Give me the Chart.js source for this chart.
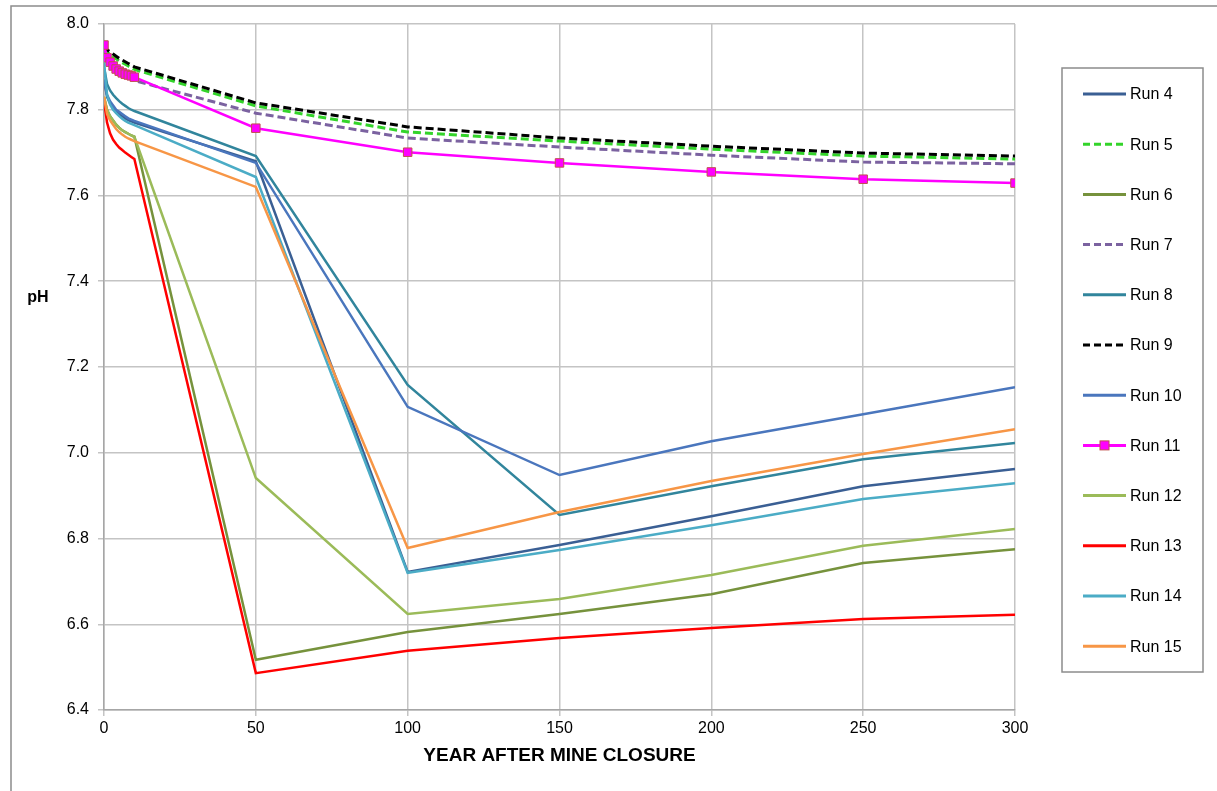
<!DOCTYPE html>
<html lang="en">
<head>
  <meta charset="UTF-8">
  <title>pH after mine closure</title>
  <script src="https://cdn.jsdelivr.net/npm/chart.js"></script>
  <style>
    body {
      margin: 0;
      background: #fff;
    }
    #wrap {
      width: 1217px;
      height: 791px;
      position: relative;
    }
  </style>
</head>
<body>

<div id="wrap">
  <canvas id="phChart"></canvas>
</div>

<script>
  // Data
  const years = [0, 1, 2, 3, 4, 5, 6, 7, 8, 9, 10, 50, 100, 150, 200, 250, 300];

  const run4  = [7.87, 7.83, 7.815, 7.805, 7.797, 7.79, 7.785, 7.78, 7.776, 7.773, 7.77, 7.68, 6.722, 6.785, 6.852, 6.922, 6.962];
  const run5  = [7.945, 7.935, 7.929, 7.924, 7.919, 7.914, 7.91, 7.906, 7.902, 7.898, 7.894, 7.809, 7.748, 7.727, 7.708, 7.692, 7.685];
  const run6  = [7.83, 7.80, 7.785, 7.775, 7.765, 7.758, 7.752, 7.748, 7.744, 7.74, 7.737, 6.517, 6.582, 6.624, 6.67, 6.743, 6.775];
  const run7  = [7.94, 7.925, 7.915, 7.905, 7.898, 7.892, 7.886, 7.88, 7.876, 7.872, 7.868, 7.792, 7.734, 7.713, 7.694, 7.678, 7.674];
  const run8  = [7.90, 7.86, 7.845, 7.835, 7.827, 7.82, 7.814, 7.809, 7.804, 7.80, 7.797, 7.692, 7.158, 6.855, 6.922, 6.985, 7.023];
  const run9  = [7.95, 7.94, 7.935, 7.93, 7.925, 7.92, 7.916, 7.912, 7.908, 7.904, 7.90, 7.816, 7.760, 7.734, 7.715, 7.699, 7.692];
  const run10 = [7.87, 7.835, 7.82, 7.81, 7.80, 7.795, 7.79, 7.785, 7.78, 7.777, 7.774, 7.676, 7.107, 6.948, 7.027, 7.09, 7.153];
  const run11 = [7.951, 7.921, 7.911, 7.902, 7.895, 7.890, 7.886, 7.883, 7.881, 7.879, 7.876, 7.757, 7.701, 7.676, 7.655, 7.638, 7.629];
  const run12 = [7.83, 7.80, 7.785, 7.775, 7.765, 7.758, 7.752, 7.748, 7.744, 7.74, 7.737, 6.941, 6.624, 6.659, 6.715, 6.783, 6.822];
  const run13 = [7.82, 7.77, 7.745, 7.73, 7.72, 7.712, 7.706, 7.70, 7.695, 7.69, 7.685, 6.486, 6.538, 6.568, 6.591, 6.612, 6.622];
  const run14 = [7.91, 7.835, 7.812, 7.80, 7.792, 7.785, 7.779, 7.774, 7.77, 7.767, 7.764, 7.643, 6.72, 6.773, 6.831, 6.892, 6.929];
  const run15 = [7.83, 7.79, 7.775, 7.765, 7.755, 7.748, 7.742, 7.737, 7.733, 7.73, 7.727, 7.62, 6.778, 6.862, 6.934, 6.997, 7.055];

  const yTicks = [6.4, 6.6, 6.8, 7.0, 7.2, 7.4, 7.6, 7.8, 8.0];
  const xTicks = [0, 50, 100, 150, 200, 250, 300];

  const FONT = "'Liberation Sans', Arial, sans-serif";

  function series(label, values, color, opts) {
    return Object.assign({
      label: label,
      data: years.map((x, i) => ({ x: x, y: values[i] })),
      borderColor: color,
      backgroundColor: color,
      borderWidth: 2.5,
      pointRadius: 0,
      tension: 0,
      fill: false
    }, opts || {});
  }

  const dash = { borderDash: [8, 4], borderWidth: 3 };

  const datasets = [
    series('Run 4', run4, '#3a5f94'),
    series('Run 5', run5, '#33d42a', dash),
    series('Run 6', run6, '#76923c'),
    series('Run 7', run7, '#7b62a0', dash),
    series('Run 8', run8, '#31859c'),
    series('Run 9', run9, '#000000', dash),
    series('Run 10', run10, '#4a76bd'),
    series('Run 11', run11, '#ff00ff', {
      pointRadius: 6, pointStyle: 'rect', pointBackgroundColor: '#ff00ff',
      pointBorderColor: '#c0504d', pointBorderWidth: 1
    }),
    series('Run 12', run12, '#9bbb59'),
    series('Run 13', run13, '#ff0000'),
    series('Run 14', run14, '#4bacc6'),
    series('Run 15', run15, '#f79646')
  ];
  // later runs drawn on top, like the original
  datasets.forEach((d, i) => { d.order = 100 - i; });

  // Border, "pH" label and the boxed legend
  const decorations = {
    id: 'decorations',
    afterDraw(chart) {
      const ctx = chart.ctx;
      ctx.save();
      ctx.strokeStyle = '#8c8c8c';
      ctx.lineWidth = 1.5;
      ctx.strokeRect(11, 6, 1230, 820);

      ctx.fillStyle = '#000';
      ctx.font = 'bold 16px ' + FONT;
      ctx.textAlign = 'center';
      ctx.textBaseline = 'middle';
      ctx.fillText('pH', 38, 298);

      // legend box
      ctx.strokeStyle = '#8c8c8c';
      ctx.lineWidth = 1.5;
      ctx.strokeRect(1062, 68, 141, 604);
      ctx.font = '16px ' + FONT;
      ctx.textAlign = 'left';
      chart.data.datasets.forEach((d, i) => {
        const y = 94 + i * 50.2;
        ctx.save();
        ctx.strokeStyle = d.borderColor;
        ctx.lineWidth = 3;
        ctx.setLineDash(d.borderDash ? [7, 4] : []);
        ctx.beginPath();
        ctx.moveTo(1083, y);
        ctx.lineTo(1126, y);
        ctx.stroke();
        ctx.restore();
        if (d.pointRadius > 0) {
          ctx.fillStyle = d.pointBackgroundColor;
          ctx.strokeStyle = d.pointBorderColor;
          ctx.lineWidth = 1;
          ctx.fillRect(1100, y - 4.5, 9, 9);
          ctx.strokeRect(1100, y - 4.5, 9, 9);
        }
        ctx.fillStyle = '#000';
        ctx.fillText(d.label, 1130, y + 1);
      });
      ctx.restore();
    }
  };

  new Chart(document.getElementById('phChart'), {
    type: 'line',
    data: { datasets: datasets },
    options: {
      responsive: true,
      maintainAspectRatio: false,
      animation: false,
      layout: { padding: { left: 0, top: 24, right: 202, bottom: 24 } },
      plugins: {
        legend: { display: false },
        tooltip: { enabled: false }
      },
      scales: {
        x: {
          type: 'linear',
          min: 0,
          max: 300,
          afterBuildTicks: s => { s.ticks = xTicks.map(v => ({ value: v })); },
          afterFit: s => { s.height = 57; },
          grid: { color: '#c4c4c4', lineWidth: 1.5, tickLength: 6 },
          border: { color: '#a6a6a6', width: 1.5 },
          ticks: {
            color: '#000',
            font: { family: FONT, size: 16 },
            padding: 3
          },
          title: {
            display: true,
            text: 'YEAR AFTER MINE CLOSURE',
            color: '#000',
            font: { family: FONT, size: 19, weight: 'bold' },
            padding: { top: 4, bottom: 0 }
          }
        },
        y: {
          min: 6.4,
          max: 8.0,
          afterBuildTicks: s => { s.ticks = yTicks.map(v => ({ value: v })); },
          afterFit: s => { s.width = 104; },
          grid: { color: '#c4c4c4', lineWidth: 1.5, tickLength: 6 },
          border: { color: '#a6a6a6', width: 1.5 },
          ticks: {
            color: '#000',
            font: { family: FONT, size: 16 },
            padding: 9,
            callback: v => Number(v).toFixed(1)
          }
        }
      }
    },
    plugins: [decorations]
  });
</script>

</body>
</html>
